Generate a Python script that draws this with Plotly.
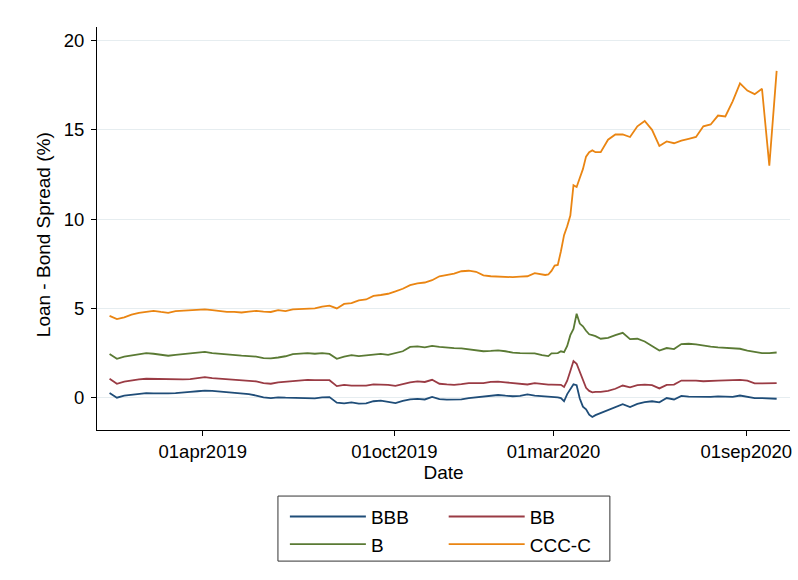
import pandas as pd
import plotly.graph_objects as go

# datas: semanal, com passo de 3 dias no choque de mar/2020
datas = list(pd.date_range("2019-01-02", "2020-02-19", freq="7D")) \
    + list(pd.date_range("2020-02-22", "2020-04-10", freq="3D")) \
    + list(pd.date_range("2020-04-15", "2020-09-30", freq="7D"))

bbb = [0.26, 0.0, 0.12, 0.18, 0.24, 0.26, 0.24, 0.22, 0.24, 0.25,
       0.27, 0.32, 0.36, 0.4, 0.38, 0.35, 0.32, 0.3, 0.26, 0.2,
       0.12, 0.02, -0.02, 0.02, 0.0, -0.02, -0.04, -0.06, -0.04, 0.02,
       0.03, -0.28, -0.32, -0.26, -0.33, -0.32, -0.2, -0.17, -0.22, -0.3,
       -0.18, -0.1, -0.07, -0.1, 0.04, -0.08, -0.11, -0.11, -0.1, -0.02,
       0.02, 0.08, 0.14, 0.15, 0.11, 0.08, 0.1, 0.18, 0.12, 0.1,
       0.07, 0.05, 0.05, 0.04, 0.02, -0.02, -0.2, 0.2, 0.5, 0.75,
       0.7, -0.05, -0.5, -0.65, -0.95, -1.08, -0.98,
       -0.86, -0.71, -0.5, -0.36, -0.52, -0.35, -0.25, -0.2, -0.26, -0.02,
       -0.1, 0.1, 0.06, 0.04, 0.04, 0.04, 0.07, 0.05, 0.04, 0.12,
       0.05, -0.03, -0.02, -0.03, -0.06]

bb = [1.06, 0.78, 0.9, 0.97, 1.03, 1.06, 1.05, 1.04, 1.0, 1.0,
      1.02, 1.04, 1.1, 1.15, 1.1, 1.07, 1.04, 1.02, 1.0, 0.96,
      0.91, 0.82, 0.78, 0.86, 0.9, 0.95, 0.98, 1.0, 0.98, 1.0,
      0.98, 0.65, 0.72, 0.68, 0.66, 0.67, 0.74, 0.74, 0.72, 0.66,
      0.78, 0.86, 0.91, 0.88, 1.0, 0.78, 0.74, 0.72, 0.76, 0.82,
      0.82, 0.82, 0.88, 0.9, 0.86, 0.83, 0.78, 0.74, 0.82, 0.76,
      0.73, 0.73, 0.73, 0.73, 0.72, 0.72, 0.6, 0.95, 1.5, 2.05,
      1.9, 1.45, 0.92, 0.55, 0.38, 0.3, 0.33,
      0.33, 0.38, 0.5, 0.68, 0.58, 0.7, 0.73, 0.7, 0.52, 0.72,
      0.73, 0.96, 0.97, 0.95, 0.92, 0.92, 0.96, 0.97, 0.97, 1.0,
      0.95, 0.8, 0.8, 0.82, 0.82]

b = [2.44, 2.18, 2.3, 2.38, 2.45, 2.5, 2.46, 2.42, 2.35, 2.4,
     2.45, 2.48, 2.52, 2.56, 2.5, 2.46, 2.4, 2.38, 2.35, 2.33,
     2.3, 2.22, 2.2, 2.25, 2.32, 2.44, 2.48, 2.5, 2.46, 2.5,
     2.45, 2.18, 2.3, 2.38, 2.33, 2.38, 2.44, 2.45, 2.4, 2.5,
     2.6, 2.84, 2.87, 2.82, 2.9, 2.85, 2.8, 2.78, 2.76, 2.7,
     2.63, 2.6, 2.62, 2.65, 2.6, 2.52, 2.5, 2.5, 2.48, 2.38,
     2.35, 2.33, 2.48, 2.5, 2.5, 2.6, 2.55, 2.9, 3.5, 3.85,
     4.7, 4.15, 4.0, 3.75, 3.55, 3.5, 3.45,
     3.3, 3.35, 3.5, 3.63, 3.28, 3.3, 3.15, 2.9, 2.64, 2.78,
     2.72, 3.0, 3.02, 2.98, 2.9, 2.86, 2.82, 2.78, 2.76, 2.74,
     2.64, 2.55, 2.5, 2.5, 2.53]

ccc = [4.58, 4.4, 4.5, 4.65, 4.75, 4.82, 4.86, 4.8, 4.75, 4.85,
       4.88, 4.92, 4.93, 4.95, 4.9, 4.85, 4.8, 4.8, 4.77, 4.82,
       4.86, 4.82, 4.8, 4.9, 4.85, 4.95, 4.97, 5.0, 5.0, 5.1,
       5.15, 5.0, 5.25, 5.3, 5.45, 5.5, 5.7, 5.75, 5.82, 5.95,
       6.1, 6.3, 6.4, 6.45, 6.58, 6.8, 6.88, 6.95, 7.08, 7.11,
       7.05, 6.85, 6.8, 6.78, 6.75, 6.75, 6.78, 6.8, 6.97, 6.9,
       6.87, 6.9, 7.1, 7.4, 7.43, 8.2, 9.1, 9.6, 10.2, 11.9,
       11.8, 12.3, 12.8, 13.5, 13.75, 13.85, 13.75,
       13.75, 14.45, 14.74, 14.75, 14.6, 15.2, 15.5, 15.0, 14.1, 14.35,
       14.25, 14.4, 14.5, 14.6, 15.2, 15.3, 15.8, 15.75, 16.6, 17.6,
       17.2, 17.0, 17.3, 13.0, 18.3]

ticks_x = ["2019-04-01", "2019-10-01", "2020-03-01", "2020-09-01"]
rotulos_x = ["01apr2019", "01oct2019", "01mar2020", "01sep2020"]
ticks_y = [0, 5, 10, 15, 20]

fonte = "Liberation Sans, Arial, sans-serif"

series = [
    ("BBB", bbb, "#1f4d78", "legend"),
    ("BB", bb, "#9a3b44", "legend2"),
    ("B", b, "#5a7a34", "legend"),
    ("CCC-C", ccc, "#ea8512", "legend2"),
]

fig = go.Figure()
for nome, valores, cor, leg in series:
    fig.add_trace(go.Scatter(
        x=datas, y=valores, name=nome, mode="lines",
        line=dict(color=cor, width=1.8), legend=leg
    ))

leg_comum = dict(
    xref="container", yref="container", xanchor="left", yanchor="top",
    y=0.142, orientation="v", itemwidth=76, bgcolor="rgba(0,0,0,0)",
    font=dict(family=fonte, size=19, color="black"),
)

fig.update_layout(
    width=798, height=580,
    plot_bgcolor="white", paper_bgcolor="white",
    margin=dict(l=97, r=8, t=27, b=150, autoexpand=False),
    font=dict(family=fonte, size=18.5, color="black"),
    xaxis=dict(
        type="date", range=["2018-12-21", "2020-10-12 18:00"],
        tickvals=ticks_x, ticktext=rotulos_x, tickangle=0,
        showline=True, linecolor="black", linewidth=1,
        ticks="outside", ticklen=5, tickcolor="black",
        showgrid=False, zeroline=False,
        title=dict(text="Date", standoff=4, font=dict(size=19)),
    ),
    yaxis=dict(
        range=[-1.81, 20.76], tickvals=ticks_y,
        showline=True, linecolor="black", linewidth=1,
        ticks="outside", ticklen=5, tickcolor="black", ticklabelstandoff=3,
        showgrid=True, gridcolor="#e6edf0", gridwidth=1, zeroline=False,
    ),
    legend=dict(leg_comum, x=0.357),
    legend2=dict(leg_comum, x=0.556),
    # titulo do eixo y como anotacao (o titulo do eixo caia no meio do grafico)
    annotations=[dict(
        text="Loan - Bond Spread (%)", textangle=-90,
        xref="paper", yref="paper", x=-0.077, y=0.485,
        xanchor="center", yanchor="middle", showarrow=False,
        font=dict(family=fonte, size=19, color="black"),
    )],
    shapes=[dict(
        type="rect", xref="paper", yref="paper",
        x0=0.2611, x1=0.7401, y0=-0.3253, y1=-0.1639,
        line=dict(color="#333333", width=1), fillcolor="rgba(0,0,0,0)",
    )],
)

# tira a margem padrao do <body> para a figura ficar no canto
fig.write_html("out.html", config={"displayModeBar": False},
               post_script="document.body.style.margin='0';")
